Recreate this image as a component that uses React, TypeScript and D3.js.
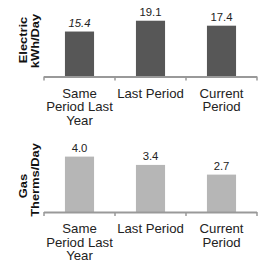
import React from "react";
import * as d3 from "d3";

const categories = ["Same Period Last Year", "Last Period", "Current Period"];
const categoryLines = [["Same", "Period Last", "Year"], ["Last Period"], ["Current", "Period"]];
const electricValues = [15.4, 19.1, 17.4];
const gasValues = [4.0, 3.4, 2.7];
const electricTitle = ["Electric", "kWh/Day"];
const gasTitle = ["Gas", "Therms/Day"];

const W = 267, H = 264;
const FONT = "'Liberation Sans', Arial, Helvetica, sans-serif";

type PanelProps = {
  values: number[];
  domainMax: number;
  baseY: number;
  topY: number;
  fill: string;
  title: string[];
  titleCenters: number[];
  italicFirst?: boolean;
};

function Panel(props: PanelProps) {
  const { values, domainMax, baseY, topY, fill, title, titleCenters } = props;
  const x = d3.scaleBand<string>().domain(categories).range([44, 257]).padding(0);
  const y = d3.scaleLinear().domain([0, domainMax]).range([baseY, topY]);
  const barW = x.bandwidth() * 0.41;
  const ticks = [...categories.map((c) => x(c) as number), x.range()[1]];

  return (
    <g>
      {/* y axis titles, rotated */}
      {title.map((t, i) => (
        <text
          key={t}
          transform={`translate(${[26.5, 38.5][i]},${titleCenters[i]}) rotate(-90) scale(1.12,1)`}
          textAnchor="middle"
          fontFamily={FONT}
          fontWeight="bold"
          fontSize={11.5}
          fill="#111"
        >
          {t}
        </text>
      ))}

      {values.map((v, i) => {
        const c = categories[i];
        const cx = (x(c) as number) + x.bandwidth() / 2;
        return (
          <g key={c}>
            <rect x={cx - barW / 2} y={y(v)} width={barW} height={baseY - y(v)} fill={fill} />
            <text
              transform={`translate(${cx},${y(v) - 5}) scale(1.08,1)`}
              textAnchor="middle"
              fontFamily={FONT}
              fontSize={10.5}
              fontStyle={props.italicFirst && i === 0 ? "italic" : "normal"}
              fill="#222"
            >
              {v.toFixed(1)}
            </text>
            {categoryLines[i].map((line, j) => (
              <text
                key={line}
                transform={`translate(${cx},${baseY + 21 + j * 13.5}) scale(1.1,1)`}
                textAnchor="middle"
                fontFamily={FONT}
                fontSize={12}
                fill="#222"
              >
                {line}
              </text>
            ))}
          </g>
        );
      })}

      <line x1={x.range()[0]} x2={x.range()[1]} y1={baseY + 0.5} y2={baseY + 0.5} stroke="#999" strokeWidth={2} />
      {ticks.map((t, i) => (
        <line key={i} x1={t} x2={t} y1={baseY} y2={baseY + 4} stroke="#999" strokeWidth={1.5} />
      ))}
    </g>
  );
}

export default function App() {
  return (
    <svg
      width={W}
      height={H}
      style={{ position: "absolute", left: 0, top: 0, background: "#fff" }}
    >
      <rect width={W} height={H} fill="#fff" />
      <Panel
        values={electricValues}
        domainMax={25}
        baseY={76.5}
        topY={76.5 - 25 * 2.92}
        fill="#575757"
        title={electricTitle}
        titleCenters={[40, 41]}
        italicFirst
      />
      <Panel
        values={gasValues}
        domainMax={5}
        baseY={212}
        topY={212 - 5 * 13.85}
        fill="#b6b6b6"
        title={gasTitle}
        titleCenters={[186, 180]}
      />
    </svg>
  );
}
